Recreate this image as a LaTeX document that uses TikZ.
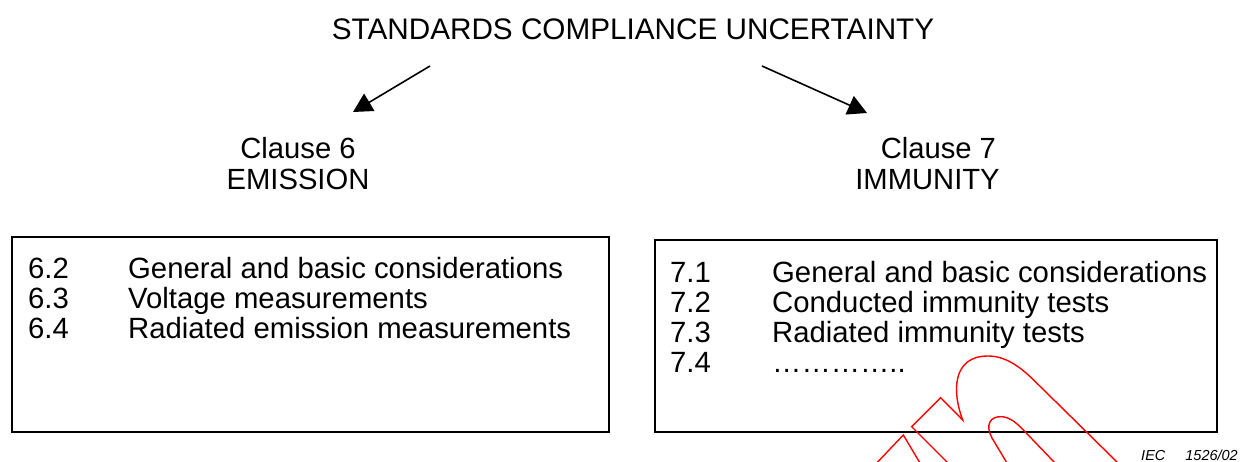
\documentclass[tikz,border=0pt]{standalone}
\usepackage{fontspec}
\setmainfont{Liberation Sans}
\usetikzlibrary{arrows.meta}
\begin{document}
\begin{tikzpicture}[x=1pt,y=-1pt,
  txt/.style={inner sep=0pt, font=\fontsize{29.2}{31}\selectfont},
  listtxt/.style={inner sep=0pt, anchor=base west, align=left, font=\fontsize{29.3}{30}\selectfont},
  panel/.style={draw=black, line width=1.5pt, inner sep=0pt},
  arr/.style={line width=1.6pt, -{Triangle[length=19pt,width=20pt]}},
  stampline/.style={draw=red, line width=1.4pt, line join=miter}
]
\useasboundingbox (0,0) rectangle (1242,461);

% heading and the two clauses
\node[txt, font=\fontsize{29.7}{31}\selectfont] (title) at (633,29) {STANDARDS COMPLIANCE UNCERTAINTY};
\node[txt, align=center] (c6) at (298,164) {Clause 6\\EMISSION};
\node[txt, align=center] (c7) at (927.5,164) {\hspace*{21.8pt}Clause 7\\IMMUNITY};

\coordinate (a1s) at (430,66);
\coordinate (a1e) at (353,112);
\coordinate (a2s) at (762,66);
\coordinate (a2e) at (867,113);
\draw[arr] (a1s) -- (a1e);
\draw[arr] (a2s) -- (a2e);

% clause panels
\node[panel, minimum width=597pt, minimum height=195pt] (lbox) at (310.5,334.5) {};
\node[panel, minimum width=562pt, minimum height=192pt] (rbox) at (936,336) {};

\node[listtxt] (llist) at (28,278) {%
  \begin{tabular}[t]{@{}p{100pt}@{}l@{}}
  6.2 & General and basic considerations\\
  6.3 & Voltage measurements\\
  6.4 & Radiated emission measurements
  \end{tabular}};
\node[listtxt] (rlist) at (670,282) {%
  \begin{tabular}[t]{@{}p{102pt}@{}l@{}}
  7.1 & General and basic considerations\\
  7.2 & Conducted immunity tests\\
  7.3 & Radiated immunity tests\\
  7.4 & …………..
  \end{tabular}};

\node[inner sep=0pt, anchor=base east, font=\fontsize{14.5}{16}\selectfont\itshape]
  (ref) at (1238,460) {IEC\hspace{20pt}1526/02};

% red stamp outline
\begin{scope}
\clip (0,0) rectangle (1242,461);
\draw[stampline] (876.7,463) -- (903.3,435) -- (920,463);
\draw[stampline] (948,463) -- (911.7,426.7) -- (940.7,397.7) -- (962.7,420)
  .. controls (952,392) and (952,356) .. (988,356)
  .. controls (1005,356) and (1020,366) .. (1036.7,383) -- (1118,463);
\draw[stampline] (1007,463) -- (992,438)
  .. controls (985,425) and (990,416) .. (1001.7,416.7)
  .. controls (1010,417) and (1018,424) .. (1025,431.7) -- (1055,463);
\end{scope}
\end{tikzpicture}
\end{document}
